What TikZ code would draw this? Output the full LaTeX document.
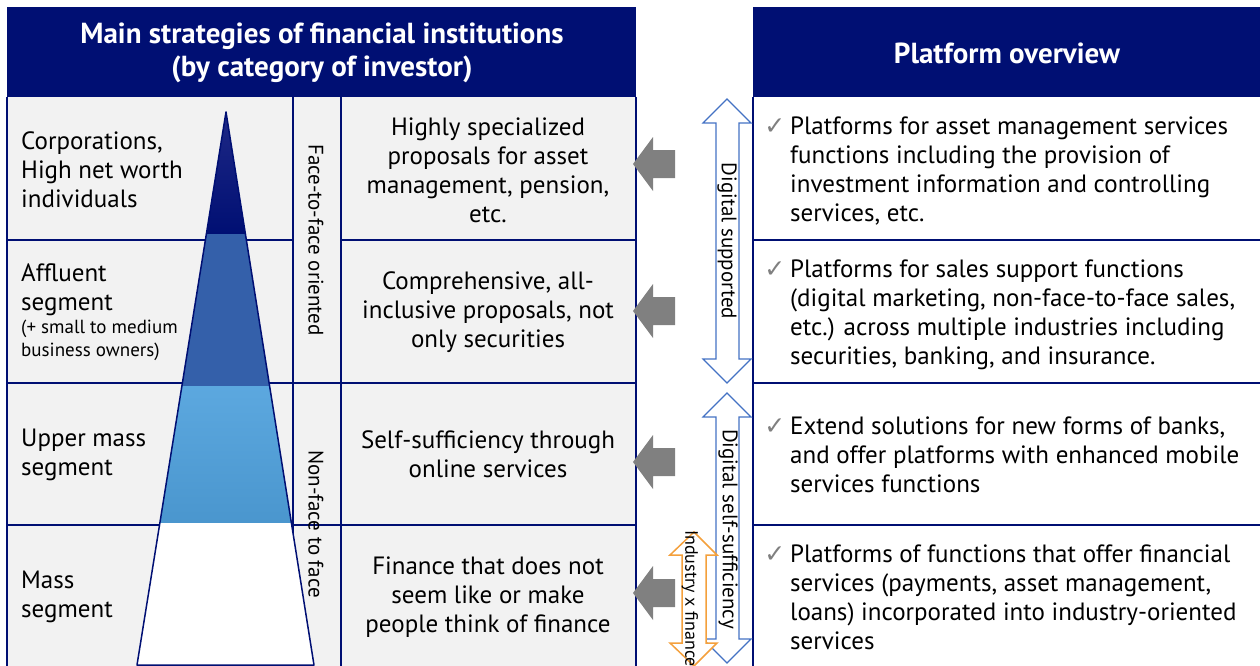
\documentclass[tikz,border=0pt]{standalone}
\usepackage{fontspec}
\setmainfont{PT Sans}
\newfontfamily\symfont{DejaVu Sans}
\usetikzlibrary{positioning, calc}
\definecolor{cNavy}{RGB}{0,15,115}
\definecolor{cCell}{RGB}{242,242,242}
\definecolor{cTop}{RGB}{32,42,135}
\definecolor{cMid}{RGB}{52,96,170}
\definecolor{cLightA}{RGB}{92,168,223}
\definecolor{cLightB}{RGB}{74,150,206}
\definecolor{cArrow}{RGB}{128,128,128}
\definecolor{cFrame}{RGB}{68,114,196}
\definecolor{cOrange}{RGB}{244,160,60}
\newcommand{\chk}{\llap{{\symfont\fontsize{25}{25}\selectfont\color{gray}✓}\hspace{5pt}}}

\begin{document}
\begin{tikzpicture}[x=1pt, y=-1pt,
            hdr/.style={text=white, font=\fontsize{29}{33}\selectfont\bfseries, align=center, inner sep=0pt},
            lbl/.style={anchor=west, align=left, font=\fontsize{25}{29}\selectfont, inner sep=0pt},
            prop/.style={align=center, font=\fontsize{25}{29}\selectfont, inner sep=0pt},
            vlbl/.style={rotate=-90, font=\fontsize{21}{26}\selectfont, inner sep=0pt},
            grid/.style={draw=cNavy, line width=1.5pt},
            frame/.style={draw=cFrame, fill=white, line width=1.2pt, line join=miter},
            blk/.style={fill=cArrow}]
            \useasboundingbox (0,0) rectangle (1260,666);
            % header bars and table cells
            \fill[cNavy] (7,7) rectangle (636,97);
            \fill[cNavy] (753,7) rectangle (1260,97);
            \fill[cCell] (7,97) rectangle (636,666);
            \foreach \x in {7,293,341,636} { \draw[grid] (\x,97) -- (\x,666); }
            \draw[grid] (753,97) -- (753,666);
            \draw[grid] (7,240) -- (293,240) (341,240) -- (636,240);
            \foreach \y in {383,525} { \draw[grid] (7,\y) -- (636,\y); }
            \foreach \y in {240,383,525} { \draw[grid] (753,\y) -- (1260,\y); }
            % investor pyramid
            \begin{scope}
                \clip (226,112) -- (314,665) -- (137,665) -- cycle;
                \shade[top color=cTop, bottom color=cNavy] (130,105) rectangle (320,234);
                \fill[cMid] (130,234) rectangle (320,386);
                \shade[top color=cLightA, bottom color=cLightB] (130,386) rectangle (320,523);
                \fill[white] (130,523) rectangle (320,666);
            \end{scope}
            \draw[cNavy, line width=1.5pt, line join=round] (226,112) -- (314,665) -- (137,665) -- cycle;
            % headers
            \node[hdr] (hLeft) at (322,53) {Main strategies of financial institutions\\(by category of investor)};
            \node[hdr] (hRight) at (1007,53) {Platform overview};
            % investor categories
            \node[lbl] (corp) at (21,170) {Corporations,\\High net worth\\individuals};
            \node[lbl] (affl) at (21,312) {Affluent\\segment\\[-6pt]{\fontsize{19}{23}\selectfont (+ small to medium}\\[-6pt]{\fontsize{19}{23}\selectfont business owners)}};
            \node[lbl] (upper) at (21,455) {Upper mass\\segment};
            \node[lbl] (mass) at (21,597) {Mass\\segment};
            \node[vlbl] (f2f) at (316,240) {Face-to-face oriented};
            \node[vlbl] (nf2f) at (316,524) {Non-face to face};
            % strategies
            \node[prop] (s1) at (488,170) {Highly specialized\\proposals for asset\\management, pension,\\etc.};
            \node[prop] (s2) at (488,312) {Comprehensive, all-\\inclusive proposals, not\\only securities};
            \node[prop] (s3) at (488,454.5) {Self-sufficiency through\\online services};
            \node[prop] (s4) at (488,597) {Finance that does not\\seem like or make\\people think of finance};
            % block arrows
            \foreach \y in {164,311,462,593}
                \fill[blk] (633,\y) -- (653,\y-27) -- (653,\y-14) -- (675,\y-14) -- (675,\y+14) -- (653,\y+14) -- (653,\y+27) -- cycle;
            \foreach \t/\b in {99/383,393/663}
                \draw[frame] (727,\t) -- (751,\t+24) -- (739,\t+24) -- (739,\b-24) -- (751,\b-24) -- (727,\b) -- (703,\b-24) -- (716,\b-24) -- (716,\t+24) -- (703,\t+24) -- cycle;
            \draw[frame, draw=cOrange, line width=1.5pt] (694,532) -- (717,555) -- (706,555) -- (706,643) -- (717,643) -- (694,666) -- (670,643) -- (682,643) -- (682,555) -- (670,555) -- cycle;
            \node[vlbl] (dsup) at (727,241) {Digital supported};
            \node[vlbl] (dself) at (728,529) {Digital self-sufficiency};
            \node[vlbl, anchor=west, font=\fontsize{18}{20}\selectfont] (indfin) at (690,530) {Industry x finance};
            % platform overview
            \node[lbl] (p1) at (790,171.5) {\chk Platforms for asset management services\\functions including the provision of\\investment information and controlling\\services, etc.};
            \node[lbl] (p2) at (790,314.5) {\chk Platforms for sales support functions\\(digital marketing, non-face-to-face sales,\\etc.) across multiple industries including\\securities, banking, and insurance.};
            \node[lbl] (p3) at (790,454.5) {\chk Extend solutions for new forms of banks,\\and offer platforms with enhanced mobile\\services functions};
            \node[lbl] (p4) at (790,597) {\chk Platforms of functions that offer financial\\services (payments, asset management,\\loans) incorporated into industry-oriented\\services};
        \end{tikzpicture}
\end{document}
